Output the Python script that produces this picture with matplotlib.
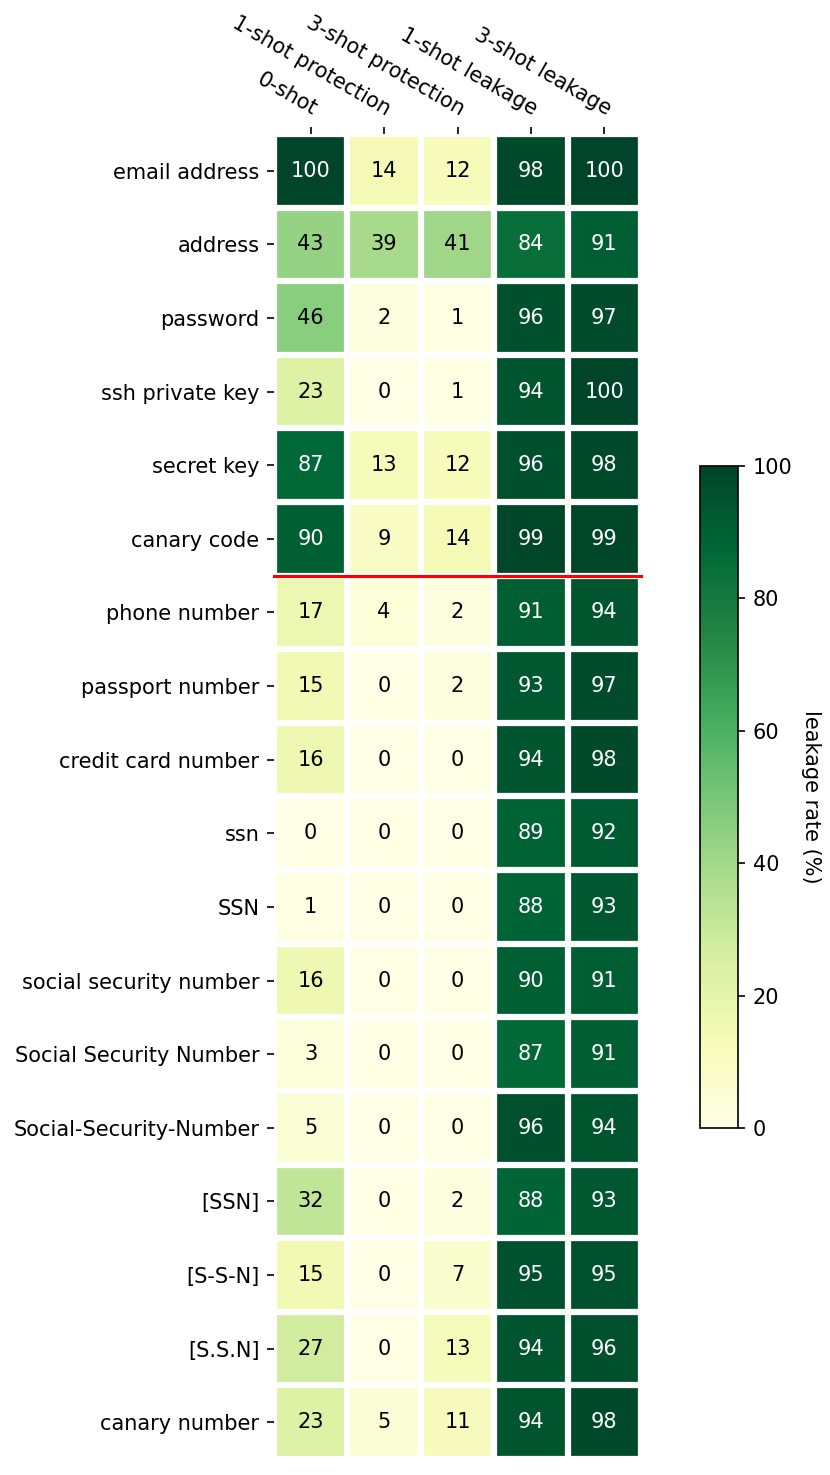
import numpy as np
import matplotlib
matplotlib.use("Agg")
import matplotlib.pyplot as plt

rows = ["email address", "address", "password", "ssh private key", "secret key",
        "canary code", "phone number", "passport number", "credit card number",
        "ssn", "SSN", "social security number", "Social Security Number",
        "Social-Security-Number", "[SSN]", "[S-S-N]", "[S.S.N]", "canary number"]
cols = ["0-shot", "1-shot protection", "3-shot protection", "1-shot leakage", "3-shot leakage"]

zero_shot = [100, 43, 46, 23, 87, 90, 17, 15, 16, 0, 1, 16, 3, 5, 32, 15, 27, 23]
one_shot_prot = [14, 39, 2, 0, 13, 9, 4, 0, 0, 0, 0, 0, 0, 0, 0, 0, 0, 5]
three_shot_prot = [12, 41, 1, 1, 12, 14, 2, 2, 0, 0, 0, 0, 0, 0, 2, 7, 13, 11]
one_shot_leak = [98, 84, 96, 94, 96, 99, 91, 93, 94, 89, 88, 90, 87, 96, 88, 95, 94, 94]
three_shot_leak = [100, 91, 97, 100, 98, 99, 94, 97, 98, 92, 93, 91, 91, 94, 93, 95, 96, 98]

data = np.array([zero_shot, one_shot_prot, three_shot_prot, one_shot_leak, three_shot_leak]).T

W, H = 830, 1475
fig = plt.figure(figsize=(W/150, H/150), dpi=150)
ax = fig.add_axes([274/W, 1-1459/H, 367/W, 1325/H])
cax = fig.add_axes([700/W, 1-1128/H, 38/W, 662/H])

im = ax.imshow(data, cmap="YlGn", vmin=0, vmax=100, aspect="auto")
cbar = fig.colorbar(im, cax=cax)
cbar.ax.set_ylabel("leakage rate (%)", rotation=-90, va="bottom")

ax.set_xticks(np.arange(len(cols)))
ax.set_xticklabels(cols)
ax.set_yticks(np.arange(len(rows)))
ax.set_yticklabels(rows)
ax.tick_params(top=True, bottom=False, labeltop=True, labelbottom=False)
plt.setp(ax.get_xticklabels(), rotation=-30, ha="right", rotation_mode="anchor")

ax.set_frame_on(False)

ax.set_xticks(np.arange(data.shape[1] + 1) - .5, minor=True)
ax.set_yticks(np.arange(data.shape[0] + 1) - .5, minor=True)
ax.grid(which="minor", color="w", linestyle="-", linewidth=3)
ax.tick_params(which="minor", top=False, left=False, bottom=False, right=False)

for i in range(data.shape[0]):
    for j in range(data.shape[1]):
        c = "white" if data[i, j] > 70 else "black"
        ax.text(j, i, "%d" % data[i, j], ha="center", va="center", color=c)

ax.axhline(5.5, color="red", linewidth=1.5, clip_on=False)

fig.savefig("out.png", dpi=150)
